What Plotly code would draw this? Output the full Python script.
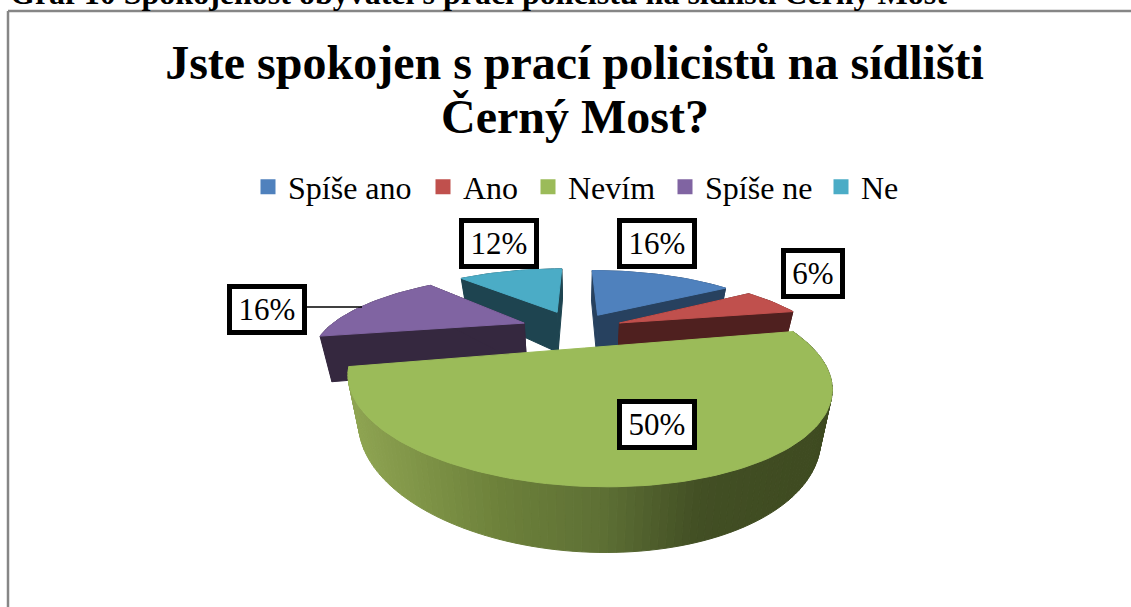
import math
import plotly.graph_objects as go

caption = "Graf 10 Spokojenost obyvatel s prací policistů na sídlišti Černý Most"
title_lines = ["Jste spokojen s prací policistů na sídlišti", "Černý Most?"]
categories = ["Spíše ano", "Ano", "Nevím", "Spíše ne", "Ne"]
values = [16, 6, 50, 16, 12]
top_colors = ["#4f81bd", "#c0504d", "#9bbb59", "#8064a2", "#4bacc6"]
wall_colors = ["#27415f", "#4f201f", "#4d5d2c", "#35283f", "#1e4450"]
explode = [0.245, 0.245, 0.0, 0.285, 0.285]
draw_order = [4, 0, 3, 1, 2]
label_pos = [(656.5, 243), (812.5, 273), (657, 424), (266.5, 309), (498.5, 243)]
legend_left = [248, 423, 528, 665, 821]

SERIF = "Liberation Serif"
BACK = dict(cx=576, cy=329, A=197, B=69, s=0, p=0.357)
FRONT = dict(cx=584.6, cy=348, A=228, B=93, s=-15, p=0.33)
H, K, CXV = 44, 0.046, 578


def proj(c, X, Y):
    d = 1 + c["p"] * Y
    return c["cx"] + (c["A"] * X + c["s"] * Y) / d, c["cy"] - c["B"] * Y / d, d


def drop(pt):
    x, y, d = pt
    return CXV + (x - CXV) * (1 - K), y + H / d


def mix(x):
    stops = [(347, (143, 165, 82)), (500, (108, 128, 58)), (600, (94, 112, 53)),
             (700, (66, 79, 36)), (833, (62, 74, 32))]
    if x <= stops[0][0]:
        return "rgb(%d,%d,%d)" % stops[0][1]
    for (a, ca), (b, cb) in zip(stops, stops[1:]):
        if x <= b:
            t = (x - a) / (b - a)
            return "rgb(%d,%d,%d)" % tuple(round(u + (v - u) * t) for u, v in zip(ca, cb))
    return "rgb(%d,%d,%d)" % stops[-1][1]


def poly(xs, ys, color):
    return go.Scatter(x=xs, y=ys, mode="lines", fill="toself", fillcolor=color,
                      line=dict(color=color, width=1), showlegend=False, hoverinfo="skip")


fig = go.Figure()
total = sum(values)
starts, acc = [], 0
for v in values:
    starts.append(acc)
    acc += v

for i in draw_order:
    a0 = math.radians(starts[i] / total * 360)
    a1 = math.radians((starts[i] + values[i]) / total * 360)
    mid = (a0 + a1) / 2
    c = FRONT if i == 2 else BACK
    ex, ey = explode[i] * math.sin(mid), explode[i] * math.cos(mid)
    n = max(6, int(math.degrees(a1 - a0) / 1.5))
    thetas = [a0 + (a1 - a0) * k / n for k in range(n + 1)]
    rim = [proj(c, ex + math.sin(t), ey + math.cos(t)) for t in thetas]
    apex = proj(c, ex, ey)
    if i == 2:
        for p, q in zip(rim, rim[1:]):
            pb, qb = drop(p), drop(q)
            col = mix((p[0] + q[0]) / 2)
            fig.add_trace(poly([p[0], q[0], qb[0], pb[0], p[0]], [p[1], q[1], qb[1], pb[1], p[1]], col))
    else:
        rb = [drop(p) for p in rim]
        fig.add_trace(poly([p[0] for p in rim] + [p[0] for p in rb[::-1]],
                           [p[1] for p in rim] + [p[1] for p in rb[::-1]], wall_colors[i]))
        ab = drop(apex)
        for e in (rim[0], rim[-1]):
            eb = drop(e)
            fig.add_trace(poly([apex[0], e[0], eb[0], ab[0], apex[0]],
                               [apex[1], e[1], eb[1], ab[1], apex[1]], wall_colors[i]))
    fig.add_trace(poly([apex[0]] + [p[0] for p in rim] + [apex[0]],
                       [apex[1]] + [p[1] for p in rim] + [apex[1]], top_colors[i]))

legends = {}
for k, (name, col, left) in enumerate(zip(categories, top_colors, legend_left)):
    key = "legend" if k == 0 else "legend%d" % (k + 1)
    fig.add_trace(go.Scatter(x=[None], y=[None], mode="markers", name=name, legend=key,
                             marker=dict(symbol="square", size=15, color=col)))
    legends[key] = dict(orientation="h", x=left / 1131, xanchor="left", y=1 - 187 / 607, yanchor="middle",
                        itemwidth=30, font=dict(family=SERIF, size=32, color="black"),
                        bgcolor="rgba(0,0,0,0)")

annotations = [
    dict(text="<b>%s</b>" % caption, x=8 / 1131, y=1 - 13 / 607, xref="paper", yref="paper", xanchor="left",
         yanchor="bottom", showarrow=False, font=dict(family=SERIF, size=32, color="black")),
    dict(text="<b>%s</b>" % title_lines[1], x=575, y=116, xref="x", yref="y", xanchor="center",
         yanchor="middle", showarrow=False, font=dict(family=SERIF, size=48, color="black")),
]
for v, (x, y) in zip(values, label_pos):
    annotations.append(dict(text="%d%%" % round(v / total * 100), x=x, y=y, xref="x", yref="y",
                            showarrow=False, width=70, height=41, bgcolor="white",
                            bordercolor="black", borderwidth=5, borderpad=0,
                            font=dict(family=SERIF, size=31, color="black")))
annotations[3].update(width=54)

fig.update_layout(
    width=1131, height=607, margin=dict(l=0, r=0, t=0, b=0),
    paper_bgcolor="white", plot_bgcolor="white", showlegend=True,
    title=dict(text="<b>%s</b>" % title_lines[0], x=0.508, xanchor="center", y=0.925, yanchor="top",
               font=dict(family=SERIF, size=48, color="black")),
    xaxis=dict(range=[0, 1131], visible=False, fixedrange=True),
    yaxis=dict(range=[607, 0], visible=False, fixedrange=True),
    annotations=annotations,
    shapes=[
        dict(type="line", x0=8, x1=8, y0=11, y1=607, line=dict(color="#868686", width=2.5)),
        dict(type="line", x0=8, x1=1131, y0=11, y1=11, line=dict(color="#868686", width=2.5)),
        dict(type="line", x0=304, x1=362, y0=307, y1=307, line=dict(color="black", width=1.5)),
    ],
    **legends,
)
fig.write_html("out.html", config=dict(displayModeBar=False),
               post_script="document.body.style.margin='0';document.body.style.overflow='hidden';")
